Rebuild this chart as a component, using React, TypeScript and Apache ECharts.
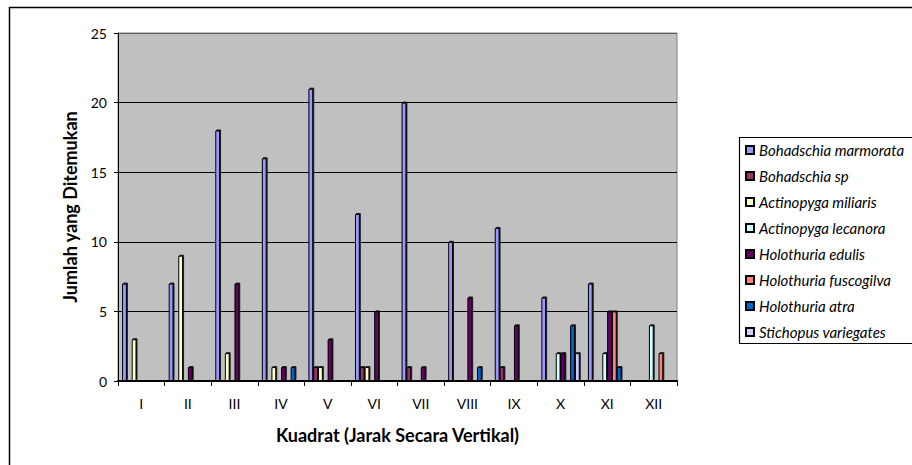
import React, { useEffect, useRef } from "react";
import * as echarts from "echarts";

const categories = ["I", "II", "III", "IV", "V", "VI", "VII", "VIII", "IX", "X", "XI", "XII"];
const seriesNames = [
  "Bohadschia marmorata",
  "Bohadschia sp",
  "Actinopyga miliaris",
  "Actinopyga lecanora",
  "Holothuria edulis",
  "Holothuria fuscogilva",
  "Holothuria atra",
  "Stichopus variegates",
];
const seriesColors = ["#9999FF", "#993366", "#FFFFCC", "#CCFFFF", "#660066", "#FF8080", "#0066CC", "#CCCCFF"];

const bohadschiaMarmorata = [7, 7, 18, 16, 21, 12, 20, 10, 11, 6, 7, 0];
const bohadschiaSp = [0, 0, 0, 0, 1, 1, 1, 0, 1, 0, 0, 0];
const actinopygaMiliaris = [3, 9, 2, 1, 1, 1, 0, 0, 0, 0, 0, 0];
const actinopygaLecanora = [0, 0, 0, 0, 0, 0, 0, 0, 0, 2, 2, 4];
const holothuriaEdulis = [0, 1, 7, 1, 3, 5, 1, 6, 4, 2, 5, 0];
const holothuriaFuscogilva = [0, 0, 0, 0, 0, 0, 0, 0, 0, 0, 5, 2];
const holothuriaAtra = [0, 0, 0, 1, 0, 0, 0, 1, 0, 4, 1, 0];
const stichopusVariegates = [0, 0, 0, 0, 0, 0, 0, 0, 0, 2, 0, 0];

const seriesData = [
  bohadschiaMarmorata,
  bohadschiaSp,
  actinopygaMiliaris,
  actinopygaLecanora,
  holothuriaEdulis,
  holothuriaFuscogilva,
  holothuriaAtra,
  stichopusVariegates,
];

const yTicks = [0, 5, 10, 15, 20, 25];

const FONT = "Lato, 'Liberation Sans', sans-serif";

export default function App() {
  const ref = useRef<HTMLDivElement>(null);

  useEffect(() => {
    if (!ref.current) return;
    const chart = echarts.init(ref.current, undefined, { renderer: "svg" });
    chart.setOption({
      animation: false,
      backgroundColor: "#FFFFFF",
      textStyle: { fontFamily: FONT },
      graphic: [
        {
          type: "rect",
          z: -10,
          shape: { x: 9.5, y: 7.5, width: 1000, height: 500 },
          style: { fill: "#FFFFFF", stroke: "#000000", lineWidth: 1.5 },
          silent: true,
        },
        {
          type: "rect",
          z: -5,
          shape: { x: 739.5, y: 137.5, width: 300, height: 206 },
          style: { fill: "#FFFFFF", stroke: "#000000", lineWidth: 1.2 },
          silent: true,
        },
      ],
      grid: {
        left: 118,
        right: 235,
        top: 33,
        bottom: 84,
        show: true,
        backgroundColor: "#C0C0C0",
        borderColor: "#808080",
        borderWidth: 1,
      },
      legend: {
        orient: "vertical",
        left: 745,
        top: 142,
        padding: 0,
        itemWidth: 8,
        itemHeight: 8,
        itemGap: 10,
        itemTextGap: 6,
        icon: "rect",
        data: seriesNames,
        textStyle: {
          fontFamily: FONT,
          fontStyle: "italic",
          fontSize: 15,
          lineHeight: 16,
          color: "#000000",
        },
      },
      xAxis: {
        type: "category",
        data: categories,
        name: "Kuadrat (Jarak Secara Vertikal)",
        nameLocation: "middle",
        nameGap: 45,
        nameTextStyle: { fontFamily: FONT, fontWeight: "bold", fontSize: 18, color: "#000000" },
        axisLine: { show: true, lineStyle: { color: "#000000", width: 2 } },
        axisTick: { show: true, length: 5, lineStyle: { color: "#000000", width: 1 } },
        axisLabel: { margin: 15, fontSize: 14, color: "#000000", fontFamily: FONT },
        splitLine: { show: false },
      },
      yAxis: {
        type: "value",
        min: 0,
        max: 25,
        interval: 5,
        name: "Jumlah yang Ditemukan",
        nameLocation: "middle",
        nameGap: 39,
        nameTextStyle: { fontFamily: FONT, fontWeight: "bold", fontSize: 18, color: "#000000" },
        axisLine: { show: true, lineStyle: { color: "#000000", width: 1 } },
        axisTick: { show: true, length: 4, lineStyle: { color: "#000000" } },
        axisLabel: {
          margin: 11,
          fontSize: 14,
          color: "#000000",
          fontFamily: FONT,
          formatter: (v: number) => (yTicks.includes(v) ? String(v) : ""),
        },
        splitLine: {
          show: true,
          lineStyle: { color: ["#000000", "#000000", "#000000", "#000000", "#000000", "#606060"], width: 1 },
        },
      },
      series: seriesNames.map((name, i) => ({
        name,
        type: "bar",
        data: seriesData[i],
        barWidth: 4.8,
        barGap: "0%",
        itemStyle: {
          color: seriesColors[i],
          borderColor: "#000000",
          borderWidth: 1,
          shadowColor: "rgba(0,0,0,0.85)",
          shadowBlur: 0,
          shadowOffsetX: 1,
          shadowOffsetY: -1,
        },
      })),
    });
    return () => chart.dispose();
  }, []);

  return (
    <div
      ref={ref}
      style={{ position: "fixed", left: 0, top: 0, width: 912, height: 465 }}
    />
  );
}
